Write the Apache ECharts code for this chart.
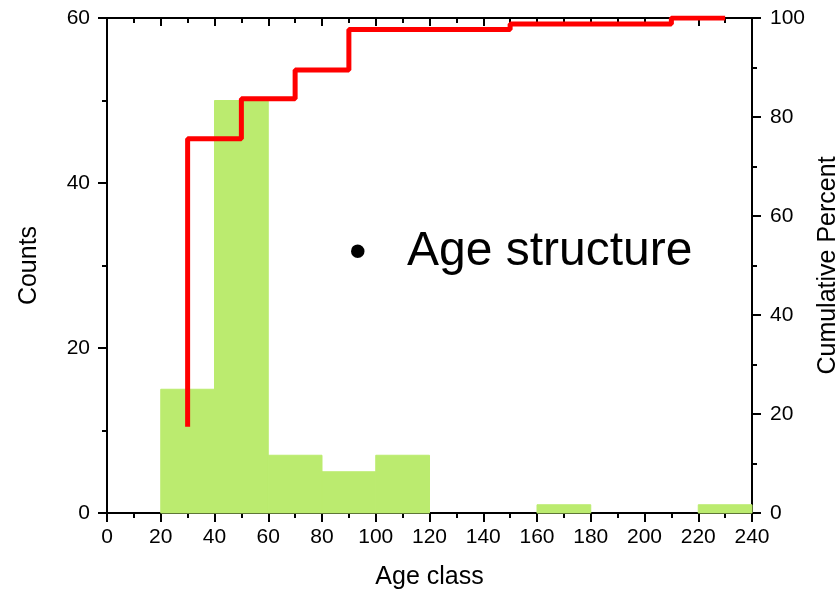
<!DOCTYPE html>
<html>
<head>
<meta charset="utf-8">
<script src="https://cdn.jsdelivr.net/npm/echarts@6/dist/echarts.min.js"></script>
<style>
    html, body { margin: 0; padding: 0; background: #fff; }
    #main { width: 837px; height: 590px; }
</style>
</head>
<body>
<div id="main"></div>
<script>
// histogram bins (age class)
var binStart = [20, 40, 60, 80, 100, 120, 140, 160, 180, 200, 220];
var binEnd = [40, 60, 80, 100, 120, 140, 160, 180, 200, 220, 240];
var counts = [15, 50, 7, 5, 7, 0, 0, 1, 0, 0, 1];
// cumulative percent, drawn at bin centres
var cumX = [30, 50, 70, 90, 110, 130, 150, 170, 190, 210, 230];
var cumPercent = [17.4, 75.6, 83.7, 89.5, 97.7, 97.7, 97.7, 98.8, 98.8, 98.8, 100];
var xTicks = [0, 240, 20];
var countTicks = [0, 60, 20];
var percentTicks = [0, 100, 20];

var font = 'Liberation Sans, Arial, sans-serif';
var black = '#000';
var barColor = '#bbeb6f';

var barData = binStart.map(function (s, i) {
    return [s, binEnd[i], counts[i]];
});
var lineData = cumX.map(function (x, i) {
    return [x, cumPercent[i]];
});

var axisLine = { show: true, onZero: false, lineStyle: { color: black, width: 2 } };

var myChart = echarts.init(document.getElementById('main'));
myChart.setOption({
    animation: false,
    backgroundColor: '#fff',
    grid: { left: 107, right: 85, top: 18, bottom: 77, containLabel: false, outerBoundsMode: 'none' },
    xAxis: [{
        type: 'value',
        position: 'bottom',
        min: xTicks[0],
        max: xTicks[1],
        interval: xTicks[2],
        name: 'Age class',
        nameLocation: 'middle',
        nameGap: 52,
        nameTextStyle: { fontFamily: font, fontSize: 25, color: black },
        axisLine: axisLine,
        axisTick: { show: true, inside: false, length: 9, lineStyle: { color: black, width: 2 } },
        minorTick: { show: true, splitNumber: 2, length: 5, lineStyle: { color: black, width: 2 } },
        axisLabel: { fontFamily: font, fontSize: 21, color: black, margin: 14 },
        splitLine: { show: false }
    }, {
        type: 'value',
        position: 'top',
        min: xTicks[0],
        max: xTicks[1],
        interval: xTicks[2],
        axisLine: axisLine,
        axisTick: { show: true, inside: true, length: 8, lineStyle: { color: black, width: 2 } },
        minorTick: { show: true, splitNumber: 2, length: 5, lineStyle: { color: black, width: 2 } },
        axisLabel: { show: false },
        splitLine: { show: false }
    }],
    yAxis: [{
        type: 'value',
        position: 'left',
        min: countTicks[0],
        max: countTicks[1],
        interval: countTicks[2],
        name: 'Counts',
        nameLocation: 'middle',
        nameGap: 65,
        nameTextStyle: { fontFamily: font, fontSize: 25, color: black },
        axisLine: axisLine,
        axisTick: { show: true, inside: false, length: 9, lineStyle: { color: black, width: 2 } },
        minorTick: { show: true, splitNumber: 2, length: 5, lineStyle: { color: black, width: 2 } },
        axisLabel: { fontFamily: font, fontSize: 21, color: black, margin: 17 },
        splitLine: { show: false }
    }, {
        type: 'value',
        position: 'right',
        min: percentTicks[0],
        max: percentTicks[1],
        interval: percentTicks[2],
        name: 'Cumulative Percent',
        nameLocation: 'middle',
        nameGap: 57,
        nameRotate: 90,
        nameTextStyle: { fontFamily: font, fontSize: 25, color: black },
        axisLine: axisLine,
        axisTick: { show: true, inside: false, length: 9, lineStyle: { color: black, width: 2 } },
        minorTick: { show: true, splitNumber: 2, length: 5, lineStyle: { color: black, width: 2 } },
        axisLabel: { fontFamily: font, fontSize: 21, color: black, margin: 18 },
        splitLine: { show: false }
    }],
    graphic: [{
        type: 'text',
        left: 349,
        top: 229,
        style: { text: '•', fontFamily: font, fontSize: 50, fill: black }
    }, {
        type: 'text',
        left: 407,
        top: 228,
        style: { text: 'Age structure', fontFamily: font, fontSize: 48, fill: black }
    }],
    series: [{
        type: 'custom',
        name: 'Counts',
        xAxisIndex: 0,
        yAxisIndex: 0,
        data: barData,
        encode: { x: [0, 1], y: 2 },
        renderItem: function (params, api) {
            if (!api.value(2)) {
                return null;
            }
            var p0 = api.coord([api.value(0), api.value(2)]);
            var p1 = api.coord([api.value(1), 0]);
            return {
                type: 'rect',
                shape: { x: p0[0], y: p0[1], width: p1[0] - p0[0], height: p1[1] - p0[1] },
                style: { fill: barColor, stroke: barColor, lineWidth: 1 }
            };
        },
        z: 1
    }, {
        type: 'line',
        name: 'Cumulative Percent',
        xAxisIndex: 0,
        yAxisIndex: 1,
        step: 'start',
        data: lineData,
        showSymbol: false,
        symbol: 'none',
        lineStyle: { color: '#ff0000', width: 5 },
        z: 3
    }]
});
</script>
</body>
</html>
